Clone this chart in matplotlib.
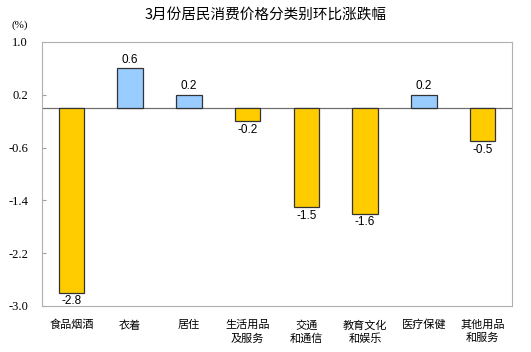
import matplotlib.pyplot as plt

plt.rcParams['font.family'] = ['Noto Sans CJK SC', 'DejaVu Sans']

categories = ["食品烟酒", "衣着", "居住", "生活用品\n及服务", "交通\n和通信",
              "教育文化\n和娱乐", "医疗保健", "其他用品\n和服务"]
values = [-2.8, 0.6, 0.2, -0.2, -1.5, -1.6, 0.2, -0.5]
yticks = [1.0, 0.2, -0.6, -1.4, -2.2, -3.0]

colors = ["#99CCFF" if v > 0 else "#FFCC00" for v in values]

fig = plt.figure(figsize=(5.31, 3.52), dpi=100)
ax = fig.add_axes([42 / 531, 1 - 306 / 352, 470 / 531, 264 / 352])

x = range(len(values))
ax.bar(x, values, width=0.43, color=colors, edgecolor="#333333", linewidth=0.9, zorder=3)
ax.axhline(0, color="#707070", linewidth=0.9, zorder=2)

for i, v in enumerate(values):
    if v > 0:
        ax.text(i, v + 0.04, f"{v:.1f}", ha="center", va="bottom", fontsize=8.5,
                family=["Liberation Sans"])
    else:
        ax.text(i, v - 0.04, f"{v:.1f}", ha="center", va="top", fontsize=8.5,
                family=["Liberation Sans"])

ax.set_xlim(-0.5, len(values) - 0.5)
ax.set_ylim(-3.0, 1.0)
ax.set_yticks(yticks)
ax.set_yticklabels([f"{t:.1f}" for t in yticks], family=["Liberation Serif"], fontsize=9)
ax.tick_params(axis="y", direction="in", length=3, color="#A0A0A0", pad=10)
ax.set_xticks(list(x))
ax.set_xticklabels(categories, fontsize=8, linespacing=1.35, weight="medium")
ax.tick_params(axis="x", length=0, pad=10)
for s in ax.spines.values():
    s.set_color("#B0B0B0")

fig.text(0.5, 1 - 15 / 352, "3月份居民消费价格分类别环比涨跌幅", ha="center", va="center",
         fontsize=10.5, weight="medium")
fig.text(20 / 531, 1 - 25 / 352, "(%)", ha="center", va="center", fontsize=8,
         family=["Liberation Serif"])

fig.savefig("out.png", dpi=100)
